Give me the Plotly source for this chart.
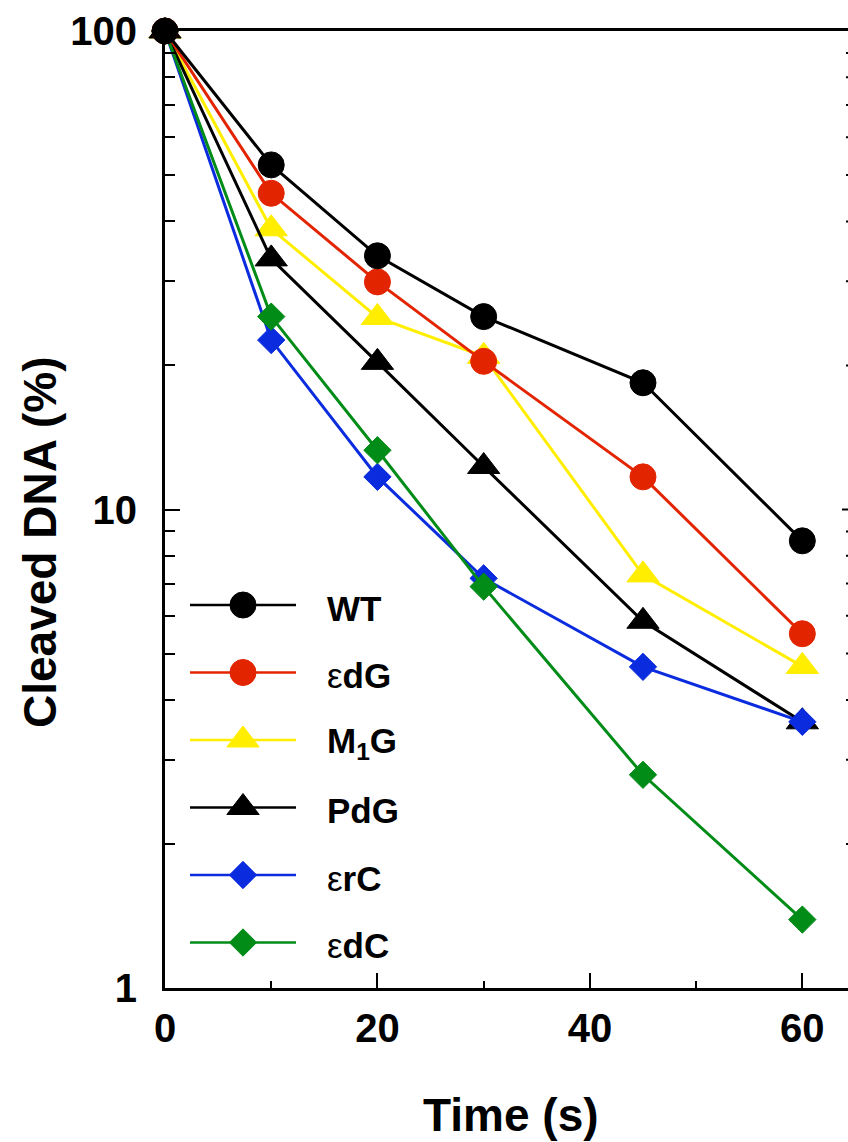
import plotly.graph_objects as go

# Time points (s) and cleaved DNA (%) for each substrate
time_s = [0, 10, 20, 30, 45, 60]
wt = [100, 52.5, 33.9, 25.3, 18.4, 8.6]
edg = [100, 45.8, 29.9, 20.4, 11.7, 5.5]
m1g = [100, 38.6, 25.2, 20.9, 7.3, 4.7]
pdg = [100, 33.4, 20.3, 12.3, 5.84, 3.6]
erc = [100, 22.6, 11.7, 7.18, 4.69, 3.6]
edc = [100, 25.3, 13.3, 6.9, 2.79, 1.39]

x_tick_vals = [0, 20, 40, 60]
x_tick_text = ["0", "20", "40", "60"]
y_tick_vals = [1, 10, 100]
y_tick_text = ["1", "10", "100"]
y_minor_vals = [2, 3, 4, 5, 6, 7, 8, 9, 20, 30, 40, 50, 60, 70, 80, 90]

# legend entries: label markup, values, color, symbol, marker size
series = {
    "WT": ("<b>WT</b>", wt, "#000000", "circle", 26),
    "edG": ("ε<b>dG</b>", edg, "#E32400", "circle", 26),
    "M1G": ("<b>M<sub>1</sub>G</b>", m1g, "#FFEE00", "triangle-up", 28),
    "PdG": ("<b>PdG</b>", pdg, "#000000", "triangle-up", 28),
    "erC": ("ε<b>rC</b>", erc, "#0A2BDE", "diamond", 21),
    "edC": ("ε<b>dC</b>", edc, "#008C17", "diamond", 21),
}
legend_order = ["WT", "edG", "M1G", "PdG", "erC", "edC"]
draw_order = ["M1G", "PdG", "erC", "edC", "edG", "WT"]

W, H = 848, 1142
FONT = "Liberation Sans, Arial, sans-serif"

fig = go.Figure()

for key in draw_order:
    label, vals, color, symbol, size = series[key]
    fig.add_trace(go.Scatter(
        x=time_s, y=vals, mode="lines+markers", name=key,
        line=dict(color=color, width=3),
        marker=dict(symbol=symbol, size=size, color=color,
                    line=dict(color=color, width=1)),
        cliponaxis=False, showlegend=False,
    ))

# hand-placed legend in pixel space (overlay axes x3/y3)
leg_top, leg_step = 605, 67.5
line_x0, line_x1, mark_x, text_x = 190, 296, 243, 325
annotations = []
for i, key in enumerate(legend_order):
    label, vals, color, symbol, size = series[key]
    ry = leg_top + i * leg_step
    fig.add_trace(go.Scatter(x=[line_x0, line_x1], y=[ry, ry], mode="lines",
                             xaxis="x3", yaxis="y3",
                             line=dict(color=color, width=2.5),
                             showlegend=False, hoverinfo="skip"))
    fig.add_trace(go.Scatter(x=[mark_x], y=[ry], mode="markers",
                             xaxis="x3", yaxis="y3", cliponaxis=False,
                             marker=dict(symbol=symbol, size=size, color=color,
                                         line=dict(color=color, width=1)),
                             showlegend=False, hoverinfo="skip"))
    annotations.append(dict(
        x=text_x / W, y=1 - (ry + 3) / H, xref="paper", yref="paper",
        xanchor="left", yanchor="middle", showarrow=False, text=label,
        font=dict(family=FONT, size=35, color="black"),
    ))

annotations.append(dict(
    x=511 / W, y=1 - 1115 / H, xref="paper", yref="paper",
    xanchor="center", yanchor="middle", showarrow=False,
    text="<b>Time (s)</b>", font=dict(family=FONT, size=46, color="black"),
))
annotations.append(dict(
    x=40 / W, y=1 - 543 / H, xref="paper", yref="paper",
    xanchor="center", yanchor="middle", showarrow=False, textangle=-90,
    text="<b>Cleaved DNA (%)</b>", font=dict(family=FONT, size=46, color="black"),
))

# short stubs on the right edge, where the frame is cut off
for v in y_tick_vals[1:2] + y_minor_vals:
    stub = 6 if v in y_tick_vals else 2
    fig.add_shape(type="line", xref="paper", yref="y",
                  x0=1 - stub / W, x1=1, y0=v, y1=v,
                  line=dict(color="black", width=2))

x_dom = [165 / W, 1.0]
y_dom = [1 - 988 / H, 1 - 31 / H]
tick_font = dict(family=FONT, size=40, color="black", weight="bold")

fig.update_layout(
    template="none",
    width=W, height=H,
    margin=dict(l=0, r=0, t=0, b=0, pad=0, autoexpand=False),
    paper_bgcolor="white", plot_bgcolor="rgba(0,0,0,0)",
    font=dict(family=FONT, color="black"),
    showlegend=False,
    annotations=annotations,
    xaxis=dict(
        domain=x_dom, range=[0, 64.3], anchor="y", automargin=False,
        showline=True, linecolor="black", linewidth=3, mirror=True,
        showgrid=False, zeroline=False,
        tickmode="array", tickvals=x_tick_vals, ticktext=x_tick_text,
        ticks="inside", ticklen=15, tickwidth=2, tickcolor="black",
        minor=dict(dtick=10, tick0=0, ticks="inside", ticklen=7,
                   tickwidth=2, tickcolor="black", showgrid=False),
        tickfont=tick_font, ticklabelstandoff=3,
    ),
    yaxis=dict(
        domain=y_dom, type="log", range=[0, 2], anchor="x", automargin=False,
        showline=True, linecolor="black", linewidth=3, mirror=False,
        showgrid=False, zeroline=False,
        tickmode="array", tickvals=y_tick_vals, ticktext=y_tick_text,
        ticks="inside", ticklen=15, tickwidth=2, tickcolor="black",
        minor=dict(tickvals=y_minor_vals, ticks="inside",
                   ticklen=10, tickwidth=2, tickcolor="black", showgrid=False),
        tickfont=tick_font, ticklabelstandoff=17,
    ),
    xaxis3=dict(domain=[0, 1], range=[0, W], visible=False, anchor="y3",
                fixedrange=True, automargin=False),
    yaxis3=dict(domain=[0, 1], range=[H, 0], visible=False, anchor="x3",
                fixedrange=True, automargin=False),
)

fig.write_html("out.html")
